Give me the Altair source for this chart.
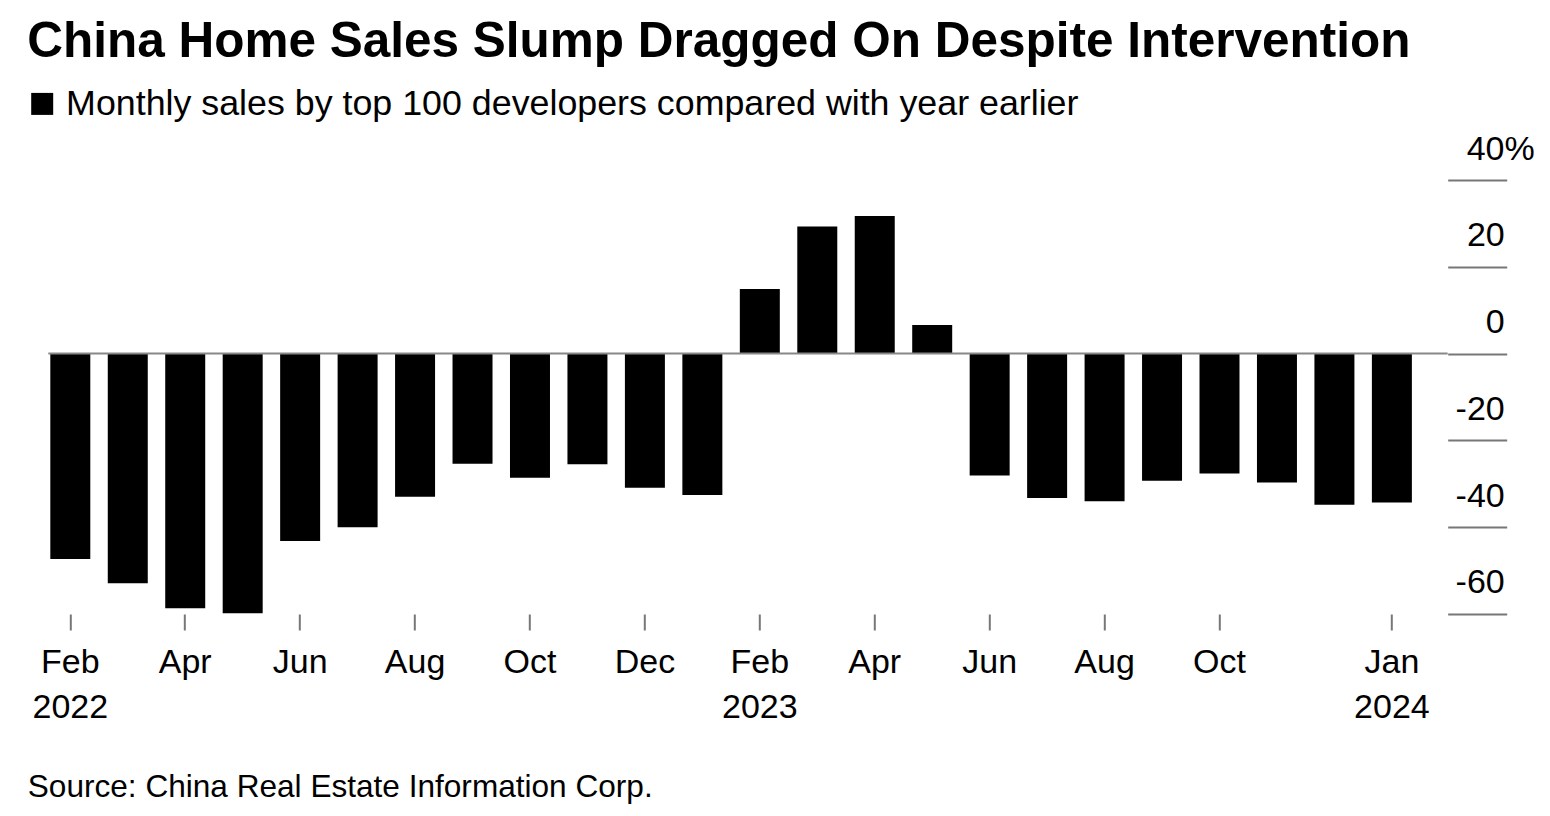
import altair as alt
import pandas as pd

# ---- data ----
months = [
    "2022-02", "2022-03", "2022-04", "2022-05", "2022-06", "2022-07",
    "2022-08", "2022-09", "2022-10", "2022-11", "2022-12", "2023-01",
    "2023-02", "2023-03", "2023-04", "2023-05", "2023-06", "2023-07",
    "2023-08", "2023-09", "2023-10", "2023-11", "2023-12", "2024-01",
]
values = [
    -47.3, -52.9, -58.7, -59.8, -43.2, -40.0,
    -33.0, -25.4, -28.6, -25.5, -30.9, -32.6,
    14.9, 29.3, 31.7, 6.6, -28.1, -33.3,
    -34.0, -29.3, -27.6, -29.7, -34.8, -34.3,
]
tick_months = ["2022-02", "2022-04", "2022-06", "2022-08", "2022-10", "2022-12",
               "2023-02", "2023-04", "2023-06", "2023-08", "2023-10", "2024-01"]
tick_month_labels = ["Feb", "Apr", "Jun", "Aug", "Oct", "Dec",
                     "Feb", "Apr", "Jun", "Aug", "Oct", "Jan"]
tick_year_labels = ["2022", "", "", "", "", "",
                    "2023", "", "", "", "", "2024"]
y_ticks = [-60, -40, -20, 0, 20, 40]

title_text = "China Home Sales Slump Dragged On Despite Intervention"
series_name = "Monthly sales by top 100 developers compared with year earlier"
source_text = "Source: China Real Estate Information Corp."

FONT = "Liberation Sans"

df = pd.DataFrame({"month": months, "value": values, "series": series_name})
zero_df = pd.DataFrame({"value": [0]})

# build multi-line x labels
parts = []
for m, lab, yr in zip(tick_months, tick_month_labels, tick_year_labels):
    if yr:
        parts.append(f"datum.value == '{m}' ? ['{lab}', '{yr}']")
    else:
        parts.append(f"datum.value == '{m}' ? '{lab}'")
x_label_expr = " : ".join(parts) + " : ''"

x_axis = alt.Axis(
    values=tick_months,
    labelExpr=x_label_expr,
    labelAngle=0,
    labelFont=FONT,
    labelFontSize=34,
    labelColor="#000",
    labelLineHeight=45,
    labelBaseline="top",
    labelPadding=16,
    labelOverlap=False,
    labelBound=False,
    tickSize=16,
    tickColor="#777",
    tickWidth=2,
    domain=False,
    grid=False,
    title=source_text,
    titleFont=FONT,
    titleFontSize=31.6,
    titleFontWeight="normal",
    titleColor="#000",
    titleAlign="left",
    titleBaseline="alphabetic",
    titleX=-21,
    titleY=183,
)

y_axis = alt.Axis(
    orient="right",
    values=y_ticks,
    labelExpr="datum.value == 40 ? '40%' : '' + datum.value",
    labelFont=FONT,
    labelFontSize=34,
    labelColor="#000",
    labelAlign="right",
    labelBaseline="alphabetic",
    labelOffset=-21,
    labelPadding={"condition": {"test": "datum.value == 40", "value": 27.5}, "value": -2.5},
    labelOverlap=False,
    labelBound=False,
    tickSize=59,
    tickColor="#777",
    tickWidth=2,
    domain=False,
    grid=False,
    title=None,
)

bars = alt.Chart(df).mark_bar().encode(
    x=alt.X("month:N", sort=None,
            scale=alt.Scale(range=[0, 1365.6], paddingInner=0.304, paddingOuter=0.035),
            axis=x_axis),
    y=alt.Y("value:Q", scale=alt.Scale(domain=[-60, 40], nice=False, zero=False),
            axis=y_axis),
    color=alt.Color("series:N",
                    scale=alt.Scale(domain=[series_name], range=["#000000"]),
                    legend=alt.Legend(
                        title=None, orient="none", legendX=-24, legendY=-94,
                        symbolType="square", symbolSize=484, symbolStrokeWidth=0,
                        labelFont=FONT, labelFontSize=35.8, labelColor="#000",
                        labelOffset=6, labelLimit=1500, padding=0,
                    )),
)

zero_rule = alt.Chart(zero_df).mark_rule(color="#888", strokeWidth=2).encode(
    y=alt.Y("value:Q")
)

chart = alt.layer(bars, zero_rule).properties(
    width=1399.4,
    height=434,
    padding={"left": 40.3, "top": 172, "right": 90, "bottom": 200},
    autosize=alt.AutoSizeParams(type="none"),
    title=alt.TitleParams(
        text=title_text, font=FONT, fontSize=49.5, fontWeight="bold",
        color="#000", anchor="start", frame="group", dx=-21, dy=-15,
    ),
).configure(font=FONT).configure_view(stroke=None)

chart.save("out.html", embed_options={"renderer": "svg", "actions": False})
